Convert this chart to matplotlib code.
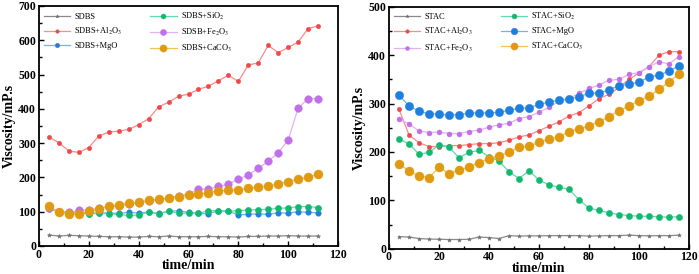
import matplotlib
matplotlib.use('Agg')
import matplotlib.pyplot as plt
from matplotlib.ticker import MultipleLocator

plt.rcParams['font.family'] = ['Liberation Serif', 'DejaVu Serif']
plt.rcParams['mathtext.fontset'] = 'stix'

# ---------------- Left panel data (SDBS) ----------------
t_left = [4, 8, 12, 16, 20, 24, 28, 32, 36, 40, 44, 48, 52, 56, 60, 64, 68, 72, 76, 80,
          84, 88, 92, 96, 100, 104, 108, 112]
sdbs = [32, 29, 31, 30, 29, 28, 27, 27, 26, 26, 28, 27, 29, 27, 27, 27, 28, 27, 27, 26,
        28, 28, 29, 29, 30, 29, 29, 29]
sdbs_al = [318, 301, 277, 273, 287, 321, 332, 335, 340, 354, 371, 406, 419, 437, 443, 457,
           466, 482, 498, 480, 528, 534, 585, 564, 579, 595, 634, 642]
sdbs_mg = [108, 100, 98, 96, 94, 97, 96, 95, 98, 96, 99, 95, 101, 103, 98, 95, 94, 103, 101,
           91, 92, 94, 92, 97, 96, 100, 98, 97]
sdbs_si = [110, 99, 100, 97, 94, 95, 94, 92, 89, 90, 99, 94, 102, 95, 96, 95, 103, 103, 101,
           103, 105, 106, 107, 110, 111, 115, 115, 112]
sdbs_fe = [112, 100, 98, 104, 106, 110, 114, 118, 122, 126, 131, 135, 140, 146, 151, 166,
           166, 174, 180, 195, 207, 227, 247, 272, 309, 402, 430, 430]
sdbs_ca = [116, 99, 93, 92, 102, 108, 116, 121, 124, 128, 133, 136, 140, 144, 148, 151, 156,
           160, 163, 163, 168, 172, 176, 180, 188, 195, 200, 210]

# ---------------- Right panel data (STAC) ----------------
t_right = [4, 8, 12, 16, 20, 24, 28, 32, 36, 40, 44, 48, 52, 56, 60, 64, 68, 72, 76, 80,
           84, 88, 92, 96, 100, 104, 108, 112, 116]
stac = [25, 24, 21, 20, 19.5, 19, 19, 19.5, 24, 23, 21, 27, 26, 26.5, 26.5, 27, 27, 27, 27,
        26, 26.5, 27, 27, 28, 27, 26.5, 27, 27, 28]
stac_al = [288, 235, 219, 211, 211, 213, 213, 215, 217, 217, 219, 224, 231, 235, 244, 253,
           262, 274, 281, 295, 310, 319, 333, 350, 363, 376, 400, 407, 407]
stac_fe = [267, 258, 243, 240, 241, 238, 238, 242, 245, 251, 256, 259, 269, 273, 282, 292,
           305, 310, 321, 331, 338, 348, 350, 360, 364, 376, 386, 382, 397]
stac_si = [226, 217, 195, 199, 214, 210, 188, 199, 203, 190, 181, 159, 145, 161, 142, 132,
           127, 123, 101, 84, 79, 74, 70.5, 68.5, 67, 67, 66, 65, 66.4]
stac_mg = [317, 295, 284, 279, 278, 276, 277, 280, 281, 280, 282, 286, 290, 291, 298, 303,
           307, 309, 314, 321, 322, 328, 337, 340, 344, 355, 359, 367, 378]
stac_ca = [175, 161, 150, 147, 168, 155, 162, 169, 178, 186, 192, 199, 210, 212, 220, 226,
           231, 242, 247, 254, 262, 273, 285, 295, 306, 315, 329, 345, 361]

GRAY = ('#8a8a8a', '#6e6e6e')
RED = ('#ff8a8a', '#f04848')
BLUE = ('#6fb4f0', '#1e7fe0')
GREEN = ('#5fdcaa', '#12b870')
PURPLE = ('#e3b0f5', '#c070e8')
ORANGE = ('#f2c25a', '#e09a10')

fig = plt.figure(figsize=(6.99, 2.74), dpi=100)
axL = fig.add_axes([39 / 699, 28 / 274, 299 / 699, 240 / 274])
axR = fig.add_axes([389 / 699, 25.3 / 274, 300 / 699, 242 / 274])


def draw(ax, x, y, col, label, ms, marker='o'):
    ax.plot(x, y, '-', color=col[0], lw=0.9, marker=marker, ms=ms,
            mfc=col[1], mec=col[1], mew=0.3, label=label)


draw(axL, t_left, sdbs, GRAY, 'SDBS', 3.2, '*')
draw(axL, t_left, sdbs_al, RED, r'SDBS+Al$_2$O$_3$', 3.2)
draw(axL, t_left, sdbs_mg, BLUE, 'SDBS+MgO', 4.0)
draw(axL, t_left, sdbs_si, GREEN, r'SDBS+SiO$_2$', 4.5)
draw(axL, t_left, sdbs_fe, PURPLE, r'SDSB+Fe$_2$O$_3$', 5.5)
draw(axL, t_left, sdbs_ca, ORANGE, r'SDBS+CaCO$_3$', 6.5)

draw(axR, t_right, stac, GRAY, 'STAC', 3.0, '*')
draw(axR, t_right, stac_al, RED, r'STAC+Al$_2$O$_3$', 3.2)
draw(axR, t_right, stac_fe, PURPLE, r'STAC+Fe$_2$O$_3$', 3.6)
draw(axR, t_right, stac_si, GREEN, r'STAC+SiO$_2$', 4.5)
draw(axR, t_right, stac_mg, BLUE, 'STAC+MgO', 6.0)
draw(axR, t_right, stac_ca, ORANGE, r'STAC+CaCO$_3$', 6.5)

for ax, ymax, ystep in ((axL, 700, 100), (axR, 500, 100)):
    ax.set_xlim(0, 120)
    ax.set_ylim(0, ymax)
    ax.xaxis.set_major_locator(MultipleLocator(20))
    ax.xaxis.set_minor_locator(MultipleLocator(10))
    ax.yaxis.set_major_locator(MultipleLocator(ystep))
    ax.yaxis.set_minor_locator(MultipleLocator(ystep / 2))
    ax.tick_params(which='both', direction='in', width=1.0)
    ax.tick_params(which='major', length=3.5, labelsize=8.5, pad=2)
    ax.tick_params(which='minor', length=2)
    for lab in ax.get_xticklabels() + ax.get_yticklabels():
        lab.set_fontweight('bold')
    for s in ax.spines.values():
        s.set_linewidth(1.3)
    ax.set_xlabel('time/min', fontsize=10, fontweight='bold', labelpad=-1)
    ax.set_ylabel('Viscosity/mP.s', fontsize=10, fontweight='bold', labelpad=2)
    leg = ax.legend(loc='upper left', ncol=2, frameon=False, fontsize=6,
                    handlelength=3.2, columnspacing=3.3, labelspacing=0.6,
                    handletextpad=0.5, borderaxespad=0.15, markerscale=0.8)

fig.savefig('out.png', dpi=100)
